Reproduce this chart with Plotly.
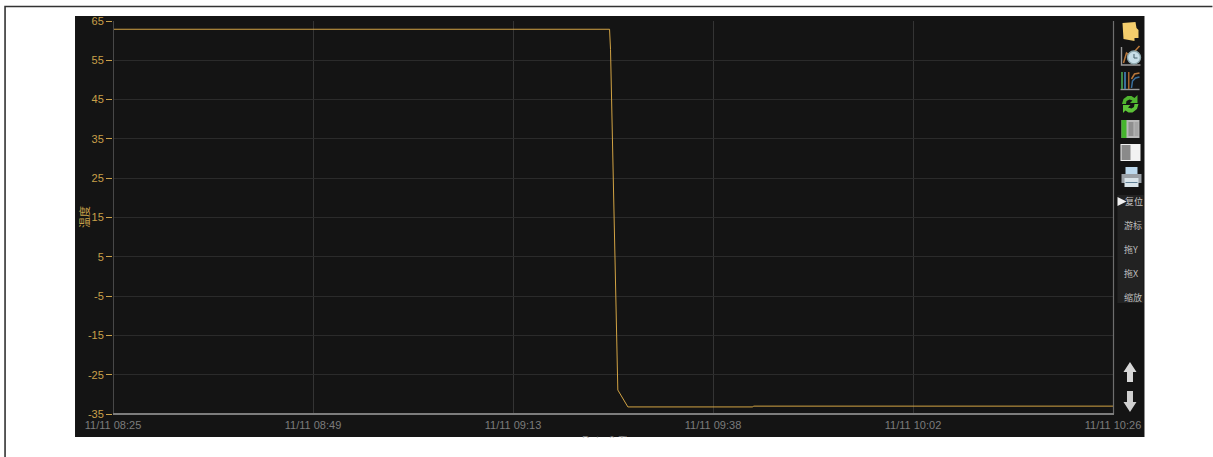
import plotly.graph_objects as go

# ---- data ----
times = ["2023-11-11 08:25:00", "2023-11-11 09:25:05", "2023-11-11 09:25:12",
         "2023-11-11 09:26:05", "2023-11-11 09:27:18", "2023-11-11 09:42:25",
         "2023-11-11 09:42:30", "2023-11-11 10:26:00"]
temps = [62.9, 62.9, 57.7, -28.9, -33.2, -33.2, -33.0, -33.0]
x_ticks = ["2023-11-11 08:25:00", "2023-11-11 08:49:12", "2023-11-11 09:13:24",
           "2023-11-11 09:37:36", "2023-11-11 10:01:48", "2023-11-11 10:26:00"]
x_labels = ["11/11 08:25", "11/11 08:49", "11/11 09:13", "11/11 09:38", "11/11 10:02", "11/11 10:26"]
y_ticks = [65, 55, 45, 35, 25, 15, 5, -5, -15, -25, -35]
y_labels = ["65", "55", "45", "35", "25", "15", "5", "-5", "-15", "-25", "-35"]
side_labels = ["游标", "拖Y", "拖X", "缩放"]
side_label_y = [226, 249, 273, 297]

W, H = 1213, 457
L, R, T, B = 113, 1113.5, 21, 414
FONT = "Liberation Sans, Arial, sans-serif"
CJK = "Noto Sans CJK SC, sans-serif"
ORANGE = "#c9a04a"
GREY = "#7c7c7c"


def px(x):
    return (x - L) / (R - L)


def py(y):
    return (B - y) / (B - T)


def rect(x0, y0, x1, y1, fill, line=None, layer="above"):
    return dict(type="rect", xref="paper", yref="paper", x0=px(x0), x1=px(x1), y0=py(y1), y1=py(y0),
                fillcolor=fill, line=dict(width=1 if line else 0, color=line or fill), layer=layer)


def path(points, fill=None, line=None, width=1, close=True):
    d = "M " + " L ".join(f"{px(a):.5f},{py(b):.5f}" for a, b in points) + (" Z" if close else "")
    return dict(type="path", xref="paper", yref="paper", path=d, fillcolor=fill or "rgba(0,0,0,0)",
                line=dict(width=width if line else 0, color=line or "rgba(0,0,0,0)"), layer="above")


def circle(x0, y0, x1, y1, fill, line=None, width=1):
    return dict(type="circle", xref="paper", yref="paper", x0=px(x0), x1=px(x1), y0=py(y1), y1=py(y0),
                fillcolor=fill, line=dict(width=width if line else 0, color=line or fill), layer="above")


shapes = [
    # page frame
    path([(5, 457), (5, 6.5), (1213, 6.5)], line="#333333", width=1.6, close=False),
    # dark panel and toolbar block
    rect(75, 16, 1145, 437, "#141414", layer="below"),
    rect(1118, 195, 1144, 303, "#222222", layer="below"),
    # plot frame
    path([(L + 0.5, T), (L + 0.5, B)], line="#484848", width=1, close=False),
    path([(R + 0.5, T), (R + 0.5, B)], line="#6e6e6e", width=1.2, close=False),
    path([(L, B), (R + 1, B)], line="#7d7d7d", width=2, close=False),
    # folder
    path([(1123, 23), (1136, 22), (1137, 28), (1139, 30), (1139, 38), (1135, 38), (1135, 41), (1124, 39)],
         fill="#f4cd6c"),
    # chart + clock
    path([(1122, 47), (1122, 65), (1141, 65)], line="#9a9a9a", width=1.4, close=False),
    path([(1124, 63), (1127, 53), (1131, 56), (1140, 46)], line="#b8773a", width=1.5, close=False),
    circle(1128, 51, 1141, 64, "#c8dfe8", line="#8da7ad", width=1.4),
    path([(1134.5, 54), (1134.5, 58), (1138, 58)], line="#44606a", width=1, close=False),
    # chart with columns
    path([(1121, 89.5), (1140, 89.5)], line="#9a9a9a", width=1.4, close=False),
    rect(1121.5, 72, 1123.5, 89, "#3f8a46"),
    rect(1124.5, 72, 1126.5, 89, "#3a6f9c"),
    rect(1128.5, 72, 1130, 89, "#a8642e"),
    path([(1132, 88), (1133, 81), (1136, 78), (1140, 77)], line="#3a6f9c", width=1.5, close=False),
    path([(1132, 79), (1135, 74), (1140, 73)], line="#b8773a", width=1.5, close=False),
    # refresh
    path([(1122.5, 104), (1124, 99), (1128, 96), (1132, 96), (1135, 98), (1138, 95), (1138, 103), (1130.5, 103),
          (1133, 100.5), (1130, 99.5), (1127, 101), (1126.5, 104)], fill="#4fb52f"),
    path([(1139, 104), (1137.5, 109), (1133, 112.5), (1129, 112.5), (1126, 110.5), (1123.5, 113), (1123.5, 105),
          (1131, 105), (1128.5, 107.5), (1132, 108.5), (1134.5, 107), (1135, 104)], fill="#5cc238"),
    # grid panel
    rect(1122, 120, 1140, 138, "#b9b9b9"),
    rect(1122, 120, 1127, 138, "#46b52e"),
    rect(1129, 122, 1134, 136, "#8f8f8f"),
    rect(1135, 122, 1139, 136, "#a5a5a5"),
    # half panel
    rect(1121, 144, 1141, 161, "#f2f2f2"),
    rect(1122, 145, 1131, 160, "#8a8a8a"),
    # printer
    rect(1126, 167, 1138, 174, "#bcd9ee"),
    rect(1122, 174, 1142, 183, "#9aa0a6"),
    rect(1125, 178, 1139, 187, "#d9e4ea"),
    rect(1126, 182, 1138, 183, "#5f7f96"),
    # reset arrow
    path([(1118, 197), (1127, 201.5), (1118, 206)], fill="#f0f0f0"),
    # up / down arrows
    path([(1130.5, 362), (1137, 372), (1133.5, 372), (1133.5, 382), (1127.5, 382), (1127.5, 372), (1124, 372)],
         fill="#d8d8d8"),
    path([(1130.5, 412), (1137, 402), (1133.5, 402), (1133.5, 391), (1127.5, 391), (1127.5, 402), (1124, 402)],
         fill="#d0d0d0"),
]

annotations = [
    dict(text="Date & Time", xref="paper", yref="paper", x=px(613), y=py(439.5), showarrow=False,
         font=dict(family=FONT, size=11, color=GREY), xanchor="center", yanchor="middle"),
    # white cover that cuts the title off at the foot of the panel
    dict(text=" ", xref="paper", yref="paper", x=px(613), y=py(437), showarrow=False, xanchor="center",
         yanchor="top", width=120, height=14, bgcolor="#ffffff", borderpad=0),
    dict(text="复位", xref="paper", yref="paper", x=px(1135), y=py(201.5), showarrow=False,
         font=dict(family=CJK, size=9, color="#c4c4c4"), xanchor="center", yanchor="middle"),
    dict(text="温度", xref="paper", yref="paper", x=px(83.5), y=py(217.5), showarrow=False, textangle=-90,
         font=dict(family=CJK, size=11, color=ORANGE), xanchor="center", yanchor="middle"),
]
for label, ypos in zip(side_labels, side_label_y):
    annotations.append(dict(text=label, xref="paper", yref="paper", x=px(1134), y=py(ypos), showarrow=False,
                            font=dict(family=CJK, size=9, color="#bdbdbd"), xanchor="center", yanchor="middle"))
annotations[-3]["x"] = annotations[-2]["x"] = px(1132)

fig = go.Figure(go.Scatter(x=times, y=temps, mode="lines", line=dict(color="#d2a344", width=1),
                           hoverinfo="skip"))
fig.update_layout(
    width=W, height=H, autosize=False,
    margin=dict(l=L, r=W - R, t=T, b=H - B, pad=0),
    paper_bgcolor="#ffffff", plot_bgcolor="#141414",
    showlegend=False, shapes=shapes, annotations=annotations,
    xaxis=dict(range=[x_ticks[0], x_ticks[-1]], type="date", tickmode="array", tickvals=x_ticks,
               ticktext=x_labels, showgrid=True, gridcolor="#343434", gridwidth=1, zeroline=False,
               showline=False, ticks="outside", ticklen=1, tickcolor="rgba(0,0,0,0)",
               ticklabeloverflow="allow", automargin=False,
               tickfont=dict(family=FONT, size=11, color=GREY)),
    yaxis=dict(range=[-35, 65], tickmode="array", tickvals=y_ticks, ticktext=y_labels, showgrid=True,
               gridcolor="#2b2b2b", gridwidth=1, zeroline=False, showline=False, ticks="outside", ticklen=6,
               tickcolor=ORANGE, tickwidth=1, automargin=False,
               tickfont=dict(family=FONT, size=11, color=ORANGE)),
)
fig.write_html("out.html", config=dict(displayModeBar=False),
               post_script="document.body.style.margin='0';document.body.style.overflow='hidden';")
